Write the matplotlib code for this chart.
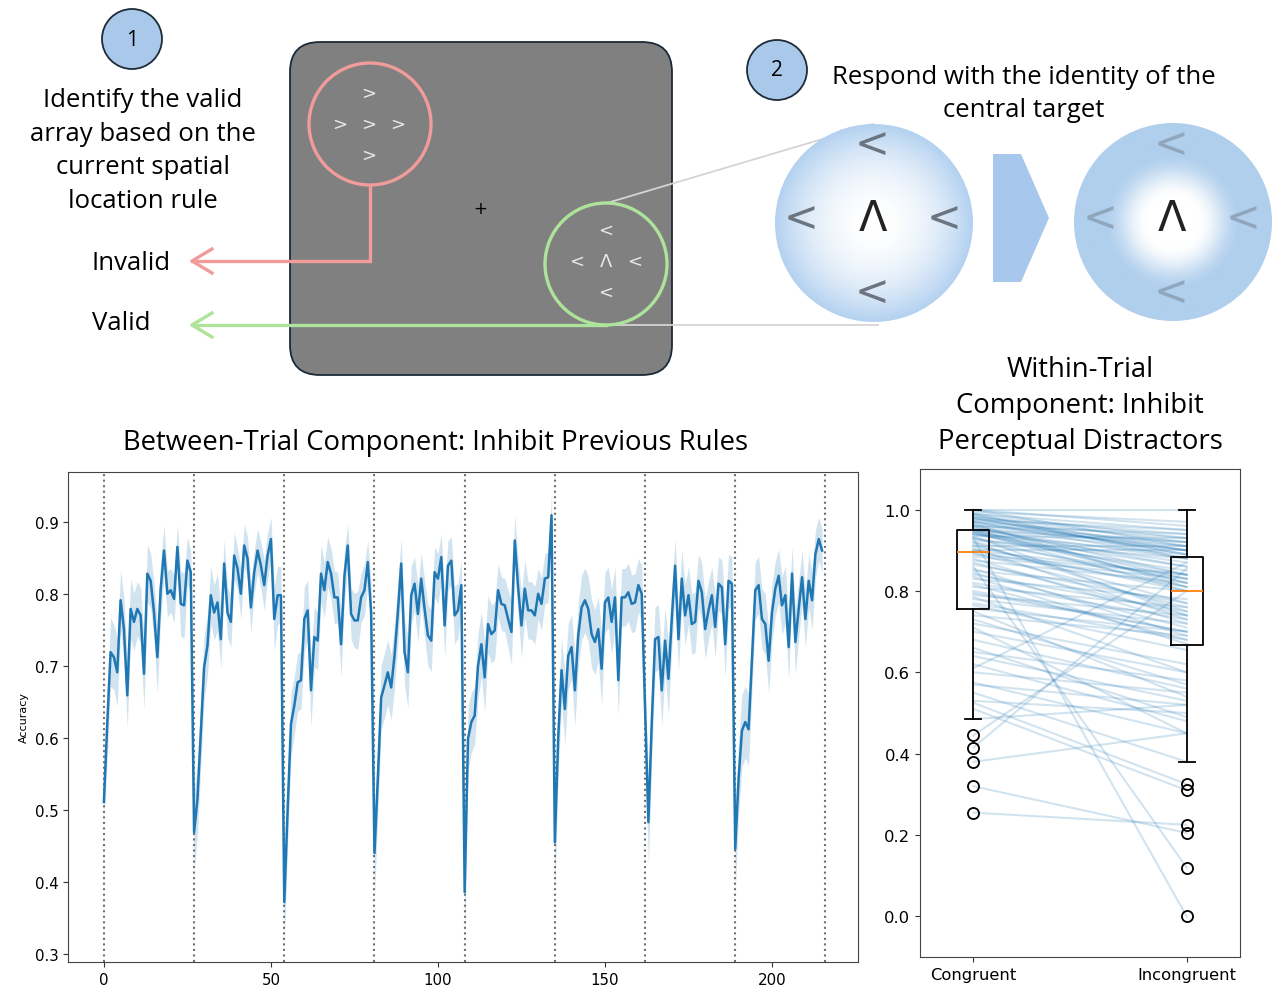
import numpy as np
import matplotlib
matplotlib.use('Agg')
import matplotlib.pyplot as plt
from matplotlib.patches import Circle, FancyBboxPatch, Polygon
from matplotlib.colors import to_rgb

# ---------------- data: between-trial accuracy (8 blocks x 27 trials) ----------------
block_starts = [0, 27, 54, 81, 108, 135, 162, 189, 216]
acc_b1 = [0.511, 0.62, 0.719, 0.712, 0.691, 0.791, 0.751, 0.659, 0.779, 0.761, 0.779, 0.770, 0.689, 0.828,
          0.818, 0.774, 0.712, 0.807, 0.860, 0.800, 0.805, 0.793, 0.865, 0.786, 0.784, 0.846, 0.830]
acc_b2 = [0.469, 0.515, 0.608, 0.698, 0.728, 0.798, 0.774, 0.788, 0.737, 0.842, 0.774, 0.761, 0.853, 0.835,
          0.800, 0.867, 0.849, 0.781, 0.830, 0.860, 0.839, 0.812, 0.853, 0.876, 0.765, 0.798, 0.798]
acc_b3 = [0.372, 0.50, 0.619, 0.645, 0.677, 0.680, 0.765, 0.777, 0.666, 0.740, 0.735, 0.828, 0.805, 0.844,
          0.828, 0.795, 0.795, 0.730, 0.825, 0.867, 0.772, 0.763, 0.763, 0.795, 0.805, 0.844, 0.774]
acc_b4 = [0.44, 0.543, 0.656, 0.673, 0.691, 0.670, 0.714, 0.774, 0.842, 0.719, 0.691, 0.798, 0.814, 0.772,
          0.821, 0.779, 0.742, 0.735, 0.830, 0.821, 0.851, 0.756, 0.839, 0.846, 0.770, 0.777, 0.812]
acc_b5 = [0.386, 0.599, 0.622, 0.631, 0.700, 0.730, 0.684, 0.758, 0.744, 0.749, 0.805, 0.786, 0.784, 0.765,
          0.747, 0.874, 0.809, 0.756, 0.807, 0.777, 0.777, 0.770, 0.800, 0.786, 0.821, 0.823, 0.909]
acc_b6 = [0.455, 0.60, 0.694, 0.640, 0.714, 0.726, 0.666, 0.742, 0.781, 0.791, 0.779, 0.744, 0.733, 0.751,
          0.696, 0.788, 0.795, 0.761, 0.795, 0.680, 0.795, 0.795, 0.802, 0.786, 0.788, 0.812, 0.800]
acc_b7 = [0.64, 0.483, 0.62, 0.737, 0.740, 0.666, 0.735, 0.682, 0.765, 0.839, 0.737, 0.821, 0.770, 0.798,
          0.758, 0.761, 0.818, 0.802, 0.751, 0.777, 0.798, 0.754, 0.814, 0.809, 0.730, 0.818, 0.814]
acc_b8 = [0.446, 0.543, 0.610, 0.622, 0.612, 0.710, 0.805, 0.812, 0.765, 0.758, 0.707, 0.774, 0.807, 0.825,
          0.784, 0.798, 0.726, 0.828, 0.733, 0.779, 0.823, 0.765, 0.818, 0.791, 0.855, 0.876, 0.860]

# 95% CI half-widths
ci_b1 = [0.02, 0.05, 0.048, 0.045, 0.047, 0.042, 0.043, 0.045, 0.042, 0.04, 0.038, 0.038, 0.05, 0.04,
         0.038, 0.04, 0.05, 0.04, 0.035, 0.032, 0.03, 0.033, 0.03, 0.045, 0.045, 0.033, 0.03]
ci_b2 = [0.055, 0.05, 0.048, 0.045, 0.042, 0.04, 0.038, 0.04, 0.04, 0.033, 0.035, 0.035, 0.032, 0.03,
         0.035, 0.03, 0.03, 0.035, 0.03, 0.03, 0.032, 0.035, 0.032, 0.03, 0.045, 0.04, 0.04]
ci_b3 = [0.06, 0.05, 0.045, 0.04, 0.04, 0.04, 0.045, 0.042, 0.05, 0.042, 0.04, 0.04, 0.038, 0.035,
         0.035, 0.037, 0.035, 0.045, 0.035, 0.03, 0.035, 0.038, 0.04, 0.035, 0.035, 0.03, 0.04]
ci_b4 = [0.06, 0.05, 0.045, 0.045, 0.045, 0.045, 0.045, 0.042, 0.035, 0.045, 0.05, 0.04, 0.037, 0.04,
         0.035, 0.04, 0.042, 0.043, 0.035, 0.035, 0.032, 0.045, 0.035, 0.033, 0.04, 0.038, 0.035]
ci_b5 = [0.06, 0.045, 0.042, 0.04, 0.045, 0.045, 0.048, 0.04, 0.04, 0.04, 0.037, 0.037, 0.037, 0.04,
         0.045, 0.035, 0.04, 0.045, 0.04, 0.04, 0.04, 0.04, 0.035, 0.037, 0.035, 0.035, 0.03]
ci_b6 = [0.07, 0.05, 0.045, 0.05, 0.045, 0.045, 0.05, 0.045, 0.045, 0.045, 0.045, 0.047, 0.045, 0.045,
         0.05, 0.042, 0.042, 0.045, 0.042, 0.05, 0.04, 0.04, 0.04, 0.04, 0.04, 0.037, 0.04]
ci_b7 = [0.045, 0.06, 0.05, 0.045, 0.045, 0.05, 0.045, 0.05, 0.042, 0.038, 0.045, 0.04, 0.042, 0.04,
         0.042, 0.042, 0.037, 0.04, 0.042, 0.04, 0.04, 0.042, 0.037, 0.038, 0.045, 0.037, 0.037]
ci_b8 = [0.06, 0.05, 0.05, 0.05, 0.05, 0.045, 0.04, 0.04, 0.042, 0.042, 0.045, 0.04, 0.038, 0.037,
         0.04, 0.04, 0.045, 0.037, 0.045, 0.04, 0.037, 0.04, 0.037, 0.04, 0.033, 0.03, 0.03]

# ---------------- data: within-trial (paired per participant) ----------------
conditions = ['Congruent', 'Incongruent']
congruent = [0.255, 0.32, 0.38, 0.415, 0.445, 0.485, 0.51, 0.525, 0.53, 0.55, 0.57, 0.575, 0.60, 0.61,
             0.62, 0.64, 0.65, 0.66, 0.68, 0.70, 0.71, 0.72, 0.73, 0.74, 0.75, 0.757, 0.765, 0.77, 0.78,
             0.785, 0.79, 0.795, 0.80, 0.81, 0.815, 0.82, 0.83, 0.835, 0.84, 0.845, 0.85, 0.855, 0.86,
             0.865, 0.87, 0.875, 0.88, 0.885, 0.89, 0.893, 0.897, 0.90, 0.90, 0.905, 0.91, 0.91, 0.915,
             0.92, 0.92, 0.925, 0.93, 0.93, 0.93, 0.935, 0.935, 0.94, 0.94, 0.94, 0.945, 0.945, 0.945,
             0.95, 0.95, 0.95, 0.95, 0.95, 0.955, 0.955, 0.96, 0.96, 0.96, 0.965, 0.965, 0.97, 0.97, 0.97,
             0.975, 0.975, 0.98, 0.98, 0.98, 0.985, 0.985, 0.99, 0.99, 0.99, 0.995, 1.0, 1.0, 1.0]
incongruent = [0.225, 0.205, 0.45, 0.855, 0.80, 0.52, 0.31, 0.325, 0.50, 0.38, 0.52, 0.45, 0.55, 0.87,
               0.48, 0.53, 0.58, 0.49, 0.56, 0.60, 0.45, 0.62, 0.57, 0.69, 0.54, 0.70, 0.655, 0.68, 0.72,
               0.60, 0.74, 0.70, 0.70, 0.76, 0.68, 0.73, 0.78, 0.67, 0.75, 0.71, 0.80, 0.69, 0.12, 0.77,
               0.74, 0.82, 0.72, 0.83, 0.84, 0.76, 0.81, 0.84, 0.90, 0.73, 0.80, 0.91, 0.77, 0.83, 0.75,
               0.88, 0.0, 0.81, 0.85, 0.93, 0.74, 0.84, 0.89, 0.86, 0.82, 0.87, 0.80, 0.90, 0.82, 0.92,
               0.88, 0.83, 0.91, 0.86, 0.94, 0.84, 0.92, 0.90, 0.81, 0.90, 0.88, 0.93, 0.95, 0.91, 0.89,
               0.94, 0.89, 0.92, 0.90, 0.95, 0.88, 0.93, 0.97, 0.91, 1.0, 0.96]

acc = np.array(acc_b1 + acc_b2 + acc_b3 + acc_b4 + acc_b5 + acc_b6 + acc_b7 + acc_b8)
ci = np.array(ci_b1 + ci_b2 + ci_b3 + ci_b4 + ci_b5 + ci_b6 + ci_b7 + ci_b8)
trial = np.arange(len(acc))

W, H = 1275, 987
fig = plt.figure(figsize=(W / 100, H / 100), dpi=100)
FF = ['Open Sans', 'DejaVu Sans']
TXT = 18.5


def px_axes(x0, y0, x1, y1):
    return fig.add_axes([x0 / W, 1 - y1 / H, (x1 - x0) / W, (y1 - y0) / H])


# ---------------- overlay for the schematic ----------------
ov = fig.add_axes([0, 0, 1, 1])
ov.axis('off')

for cx, cy, s in [(132, 40, '1'), (777, 71, '2')]:
    ov.add_patch(Circle((cx, cy), 30, facecolor='#a9c8ea', edgecolor='#1e2b38', lw=1.3, zorder=3))
    ov.text(cx, cy, s, ha='center', va='center', fontsize=15, family=FF, zorder=4)

ov.text(143, 151, 'Identify the valid\narray based on the\ncurrent spatial\nlocation rule',
        ha='center', va='center', fontsize=TXT, family=FF, linespacing=1.47)
ov.text(92, 264, 'Invalid', ha='left', va='center', fontsize=TXT, family=FF)
ov.text(92, 324, 'Valid', ha='left', va='center', fontsize=TXT, family=FF)
ov.text(1024, 94, 'Respond with the identity of the\ncentral target', ha='center', va='center',
        fontsize=TXT, family=FF, linespacing=1.45)

# grey screen
ov.add_patch(FancyBboxPatch((290, 43), 382, 333, boxstyle='round,pad=0,rounding_size=30',
                            facecolor='#808080', edgecolor='#1b2a38', lw=1.3, zorder=1))
ov.text(480, 209, '+', ha='center', va='center', fontsize=12, color='black', zorder=3)

RED, GREEN = '#f29b9b', '#ade39a'
ov.add_patch(Circle((370, 125), 61, fill=False, edgecolor=RED, lw=2.4, zorder=3))
ov.add_patch(Circle((606, 265), 61, fill=False, edgecolor=GREEN, lw=2.4, zorder=3))
ov.plot([370, 370, 192], [186, 262, 262], color=RED, lw=2.4, zorder=3, solid_joinstyle='miter')
ov.plot([212, 192, 212], [250, 262, 274], color=RED, lw=2.4, zorder=3)
ov.plot([606, 192], [326, 326], color=GREEN, lw=2.4, zorder=3)
ov.plot([212, 192, 212], [314, 326, 338], color=GREEN, lw=2.4, zorder=3)

small = dict(ha='center', va='center', fontsize=13, color='#e8e8e8', zorder=4)
for (x, y) in [(369, 94), (340, 125), (369, 125), (398, 125), (369, 156)]:
    ov.text(x, y, '>', **small)
for (x, y) in [(606, 231), (577, 262), (635, 262), (606, 293)]:
    ov.text(x, y, '<', **small)
ov.text(606, 262, 'Λ', **small)

# connector lines
ov.plot([607, 873], [204, 125], color='#d4d4d4', lw=1.3, zorder=1.5)
ov.plot([607, 878], [326, 326], color='#d4d4d4', lw=1.3, zorder=1.5)


def radial(n, kind, edge):
    yy, xx = np.mgrid[-1:1:n * 1j, -1:1:n * 1j]
    r = np.clip(np.sqrt(xx ** 2 + yy ** 2), 0, 1)
    if kind == 'soft':
        t = r ** 2.0
    else:
        t = np.clip((r - 0.25) / (0.70 - 0.25), 0, 1)
        t = t * t * (3 - 2 * t)
    e = np.array(to_rgb(edge))
    return (1 - t)[..., None] * np.ones(3) + t[..., None] * e


for (cx, cy, kind, edge) in [(874, 224, 'soft', '#b3d1f0'), (1173, 223, 'hard', '#b0cfed')]:
    rad = 99
    clip = Circle((cx, cy), rad, transform=ov.transData, facecolor='none', edgecolor='none')
    ov.add_patch(clip)
    im = ov.imshow(radial(300, kind, edge), extent=(cx - rad, cx + rad, cy + rad, cy - rad),
                   interpolation='bilinear', zorder=2)
    im.set_clip_path(clip)

ov.add_patch(Polygon([(993, 155), (1021, 155), (1049, 219), (1021, 283), (993, 283)],
                     closed=True, facecolor='#a7c8ec', edgecolor='none', zorder=2))

for dx, col in [(0, '#6b7480'), (299, '#8fa6bd')]:
    big = dict(ha='center', va='center', fontsize=30, color=col, zorder=4)
    for (x, y) in [(872, 145), (801, 219), (944, 219), (872, 293)]:
        ov.text(x + dx, y, '<', **big)
    ov.text(873 + dx, 219, 'Λ', ha='center', va='center', fontsize=30, color='#222222', zorder=4)

ov.set_aspect('auto')
ov.set_xlim(0, W)
ov.set_ylim(H, 0)

# ---------------- left chart ----------------
ax1 = px_axes(68, 473, 858, 963)
ax1.fill_between(trial, acc - ci, acc + ci, color='C0', alpha=0.2, lw=0)
ax1.plot(trial, acc, color='C0', lw=1.8)
for b in block_starts:
    ax1.axvline(b, color='#707070', ls=':', lw=1.5, zorder=0)
ax1.set_xlim(-10.75, 225.75)
ax1.set_ylim(0.289, 0.969)
ax1.set_yticks([0.3, 0.4, 0.5, 0.6, 0.7, 0.8, 0.9])
ax1.tick_params(labelsize=10.8, color='#333333')
ax1.set_ylabel('Accuracy', fontsize=8)
for s in ax1.spines.values():
    s.set_color('#444444')
ax1.set_title('Between-Trial Component: Inhibit Previous Rules', x=(436 - 68) / 790, y=1 + 22 / 490,
              va='center', fontsize=19.8, family=FF)

# ---------------- right chart ----------------
ax2 = px_axes(920, 470, 1240, 958)
for c, v in zip(congruent, incongruent):
    ax2.plot([1, 2], [c, v], color='C0', alpha=0.2, lw=1.5)
ax2.boxplot([congruent, incongruent], tick_labels=conditions,
            boxprops=dict(lw=1.3), whiskerprops=dict(lw=1.3), capprops=dict(lw=1.3),
            medianprops=dict(color='C1', lw=1.3),
            flierprops=dict(marker='o', markersize=8, markerfacecolor='none', markeredgewidth=1.3))
ax2.set_xlim(0.75, 2.25)
ax2.set_ylim(-0.1, 1.1)
ax2.set_yticks([0.0, 0.2, 0.4, 0.6, 0.8, 1.0])
ax2.tick_params(labelsize=11.8, color='#333333')
for s in ax2.spines.values():
    s.set_color('#444444')
ax2.set_title('Within-Trial\nComponent: Inhibit\nPerceptual Distractors', y=1 + 56 / 488,
              va='center', fontsize=19.8, family=FF, linespacing=1.38)

fig.savefig('out.png', dpi=100)
